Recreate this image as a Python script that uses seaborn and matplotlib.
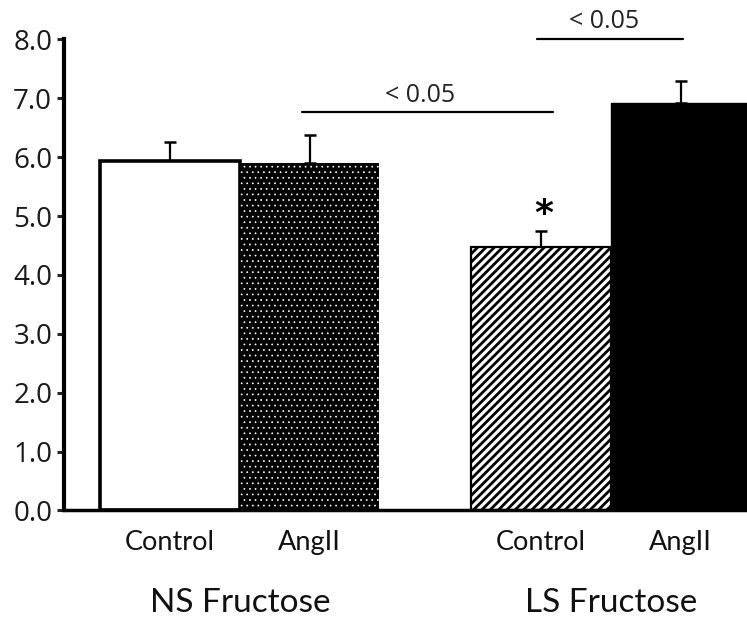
import numpy as np
import pandas as pd
import matplotlib
matplotlib.use("Agg")
import matplotlib.pyplot as plt
import matplotlib.transforms as mtransforms
import seaborn as sns

# ---- data ----
groups = ["NS Fructose", "LS Fructose"]
treatments = ["Control", "AngII"]
ns_means = [5.94, 5.90]
ls_means = [4.47, 6.92]
ns_sems = [0.32, 0.48]
ls_sems = [0.28, 0.37]
sig_label = "< 0.05"
star_label = "*"

df = pd.DataFrame({
    "group": [groups[0]] * 2 + [groups[1]] * 2,
    "treatment": treatments * 2,
    "value": ns_means + ls_means,
    "sem": ns_sems + ls_sems,
})

sns.set_style("white")
plt.rcParams["font.family"] = ["Open Sans", "DejaVu Sans"]

fig = plt.figure(figsize=(7.47, 6.19), dpi=100)
ax = fig.add_axes([0.0857, 0.1753, 0.9143, 0.7612])

sns.barplot(data=df, x="group", y="value", hue="treatment",
            order=groups, hue_order=treatments, width=0.752, gap=0,
            dodge=True, errorbar=None, legend=False, ax=ax)

bars = sorted(ax.patches, key=lambda p: p.get_x())
styles = [
    dict(facecolor="white", edgecolor="black", linewidth=2.6, hatch=None, hlw=1.0),
    dict(facecolor="black", edgecolor="white", linewidth=0, hatch="...", hlw=0.5),
    dict(facecolor="white", edgecolor="black", linewidth=1.6, hatch="////", hlw=2.0),
    dict(facecolor="black", edgecolor="black", linewidth=1.0, hatch=None, hlw=1.0),
]
for p, st in zip(bars, styles):
    p.set_facecolor(st["facecolor"])
    p.set_edgecolor(st["edgecolor"])
    p.set_linewidth(st["linewidth"])
    if st["hatch"]:
        p.set_hatch(st["hatch"])
        if hasattr(p, "set_hatch_linewidth"):
            p.set_hatch_linewidth(st["hlw"])
    p.set_zorder(2)

centers = [p.get_x() + p.get_width() / 2 for p in bars]
vals = df["value"].to_numpy()
sems = df["sem"].to_numpy()
ax.errorbar(centers, vals, yerr=[np.zeros_like(sems), sems], fmt="none",
            ecolor="black", elinewidth=1.6, capsize=4.5, capthick=1.8,
            zorder=1)

ax.set_ylim(0, 8)
ax.set_xlim(-0.474, 1.367)
ax.set_yticks(np.arange(0, 9, 1))
ax.set_yticklabels([f"{v:.1f}" for v in np.arange(0, 9, 1)],
                   fontsize=20, color="#1a1a1a")
ax.set_xticks(centers)
ax.set_xticklabels(treatments * 2, fontsize=19.5, family=["Lato", "DejaVu Sans"],
                   color="#111111")
ax.tick_params(axis="x", length=0, pad=14)
ax.tick_params(axis="y", length=5, width=2.2, direction="out", pad=3.5,
               left=True)
ax.set_xlabel("")
ax.set_ylabel("")

for s in ["top", "right"]:
    ax.spines[s].set_visible(False)
ax.spines["left"].set_linewidth(3)
ax.spines["bottom"].set_linewidth(2.5)
ax.spines["left"].set_color("black")
ax.spines["bottom"].set_color("black")

# group labels
trans = mtransforms.blended_transform_factory(ax.transData, ax.transAxes)
for i, g in enumerate(groups):
    ax.text(i, -0.2154, g, transform=trans, ha="center", va="baseline",
            fontsize=24, family=["Lato", "DejaVu Sans"], color="#111111")

# significance bars
ax.plot([0.167, 0.844], [6.77, 6.77], color="black", lw=1.6, clip_on=False)
ax.text(0.485, 6.94, sig_label, ha="center", va="baseline", fontsize=18,
        color="#222222")
ax.plot([0.80, 1.194], [8.0, 8.0], color="black", lw=1.6, clip_on=False)
ax.text(0.981, 8.19, sig_label, ha="center", va="baseline", fontsize=18,
        color="#222222", clip_on=False)

# asterisk
ax.text(centers[2] + 0.006, 4.87, star_label, ha="center", va="baseline",
        fontsize=26, fontweight="bold", family=["DejaVu Sans"], color="black")

fig.savefig("out.png", dpi=100)
